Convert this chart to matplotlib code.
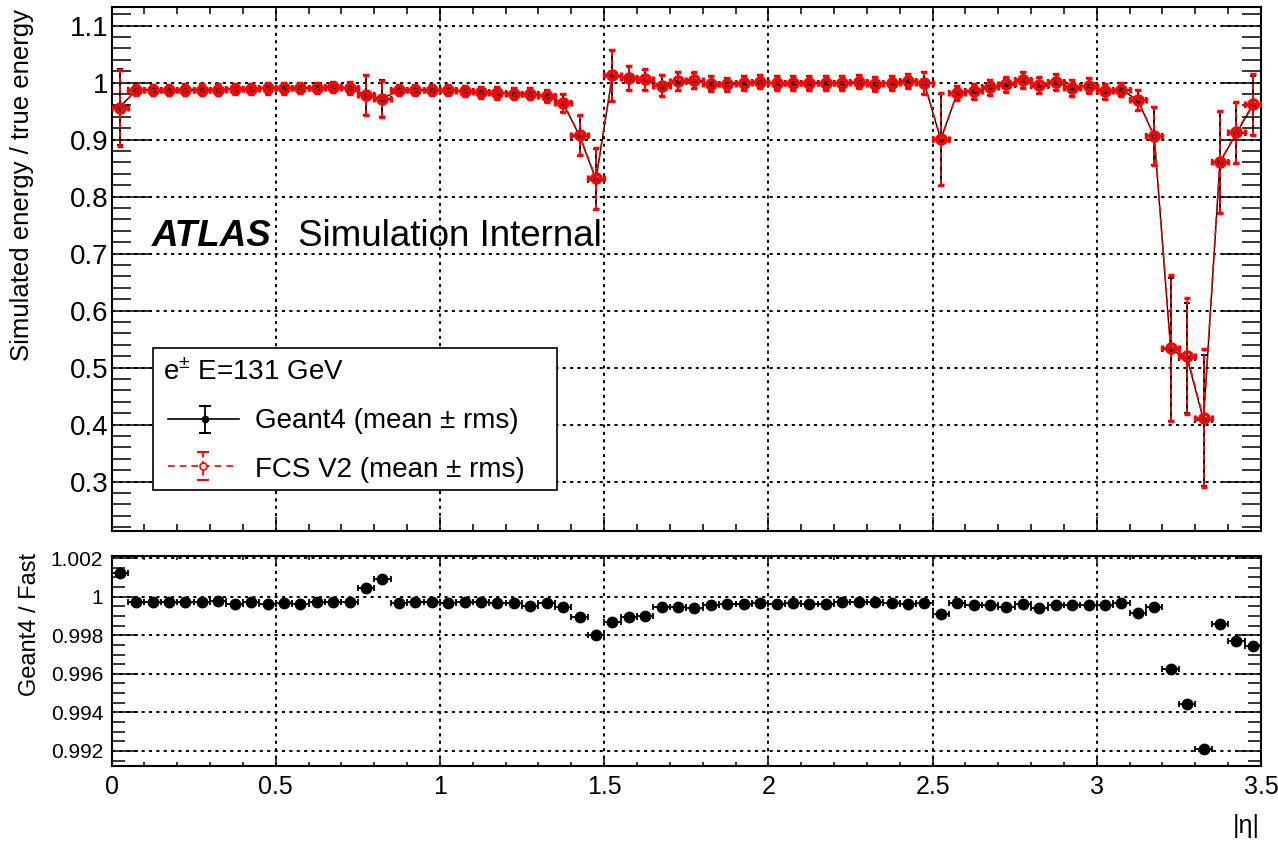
import numpy as np
import matplotlib
matplotlib.use("Agg")
import matplotlib.pyplot as plt
from matplotlib.ticker import MultipleLocator, FuncFormatter
from matplotlib.patches import Rectangle
from matplotlib.lines import Line2D

plt.rcParams['font.family'] = ['Liberation Sans', 'DejaVu Sans']
plt.rcParams['mathtext.fontset'] = 'custom'
plt.rcParams['mathtext.rm'] = 'Liberation Sans'
plt.rcParams['mathtext.it'] = 'Liberation Sans:italic'
plt.rcParams['mathtext.bf'] = 'Liberation Sans:bold'

# |eta| bins of width 0.05 from 0 to 3.5 (bin centres)
eta = np.round(np.arange(0.025, 3.5, 0.05), 3)
eta_halfwidth = 0.025

# Geant4 response (mean and rms)
geant4 = [0.957, 0.987, 0.987, 0.987, 0.988, 0.988, 0.988, 0.989, 0.989, 0.990,
          0.990, 0.991, 0.991, 0.992, 0.991, 0.978, 0.972, 0.987, 0.987, 0.987,
          0.987, 0.985, 0.983, 0.982, 0.981, 0.981, 0.977, 0.964, 0.907, 0.830,
          1.012, 1.008, 1.005, 0.995, 1.002, 1.003, 0.998, 0.997, 0.999, 1.002,
          0.999, 0.999, 0.999, 0.999, 0.999, 1.002, 0.998, 1.000, 1.003, 0.999,
          0.900, 0.982, 0.985, 0.992, 0.996, 1.005, 0.995, 1.001, 0.991, 0.995,
          0.985, 0.988, 0.969, 0.906, 0.532, 0.517, 0.408, 0.860, 0.911, 0.960]
geant4_err = [0.067, 0.009, 0.009, 0.009, 0.009, 0.009, 0.009, 0.009, 0.009, 0.009,
              0.009, 0.009, 0.009, 0.009, 0.010, 0.035, 0.032, 0.009, 0.009, 0.009,
              0.009, 0.009, 0.009, 0.010, 0.010, 0.010, 0.010, 0.016, 0.035, 0.053,
              0.045, 0.021, 0.018, 0.018, 0.016, 0.014, 0.013, 0.012, 0.012, 0.012,
              0.012, 0.012, 0.012, 0.012, 0.012, 0.012, 0.012, 0.012, 0.012, 0.019,
              0.081, 0.013, 0.013, 0.013, 0.013, 0.014, 0.014, 0.014, 0.014, 0.013,
              0.013, 0.012, 0.018, 0.051, 0.125, 0.097, 0.115, 0.089, 0.053, 0.051]

# FCS V2 response (mean and rms)
fcs = [0.956, 0.987, 0.987, 0.987, 0.988, 0.988, 0.988, 0.989, 0.989, 0.990,
       0.990, 0.991, 0.991, 0.992, 0.991, 0.978, 0.971, 0.987, 0.987, 0.987,
       0.987, 0.985, 0.983, 0.982, 0.981, 0.981, 0.977, 0.965, 0.908, 0.832,
       1.013, 1.009, 1.006, 0.995, 1.003, 1.004, 0.998, 0.997, 0.999, 1.002,
       0.999, 0.999, 0.999, 0.999, 0.999, 1.002, 0.998, 1.000, 1.003, 0.999,
       0.901, 0.982, 0.985, 0.992, 0.997, 1.005, 0.996, 1.001, 0.991, 0.995,
       0.985, 0.988, 0.970, 0.906, 0.534, 0.520, 0.411, 0.861, 0.913, 0.962]
fcs_err = [0.067, 0.009, 0.009, 0.009, 0.009, 0.009, 0.009, 0.009, 0.009, 0.009,
           0.009, 0.009, 0.009, 0.009, 0.010, 0.035, 0.032, 0.009, 0.009, 0.009,
           0.009, 0.009, 0.009, 0.010, 0.010, 0.010, 0.010, 0.016, 0.035, 0.053,
           0.045, 0.021, 0.018, 0.018, 0.016, 0.014, 0.013, 0.012, 0.012, 0.012,
           0.012, 0.012, 0.012, 0.012, 0.012, 0.012, 0.012, 0.012, 0.012, 0.019,
           0.081, 0.013, 0.013, 0.013, 0.013, 0.014, 0.014, 0.014, 0.014, 0.013,
           0.013, 0.012, 0.018, 0.051, 0.128, 0.102, 0.121, 0.090, 0.054, 0.053]

# Geant4 / Fast ratio
ratio = [1.00124, 0.99971, 0.99971, 0.99971, 0.99971, 0.99974, 0.99979, 0.99964, 0.99972, 0.99964,
         0.99968, 0.99962, 0.99971, 0.99974, 0.99974, 1.00043, 1.00092, 0.99969, 0.99973, 0.99973,
         0.99966, 0.99973, 0.99970, 0.99969, 0.99969, 0.99953, 0.99969, 0.99945, 0.99896, 0.99801,
         0.99867, 0.99893, 0.99900, 0.99948, 0.99944, 0.99940, 0.99957, 0.99962, 0.99962, 0.99966,
         0.99962, 0.99969, 0.99960, 0.99960, 0.99970, 0.99970, 0.99974, 0.99969, 0.99962, 0.99969,
         0.99910, 0.99969, 0.99957, 0.99957, 0.99948, 0.99960, 0.99943, 0.99957, 0.99957, 0.99957,
         0.99957, 0.99966, 0.99917, 0.99945, 0.99625, 0.99442, 0.99209, 0.99859, 0.99772, 0.99745]

W, H = 1278, 841


def fx(px):
    return px / W


def fy(py):
    return 1 - py / H


fig = plt.figure(figsize=(W / 100, H / 100), dpi=100)
ax1 = fig.add_axes([fx(111.5), fy(531), (1261 - 111.5) / W, (531 - 7) / H])
ax2 = fig.add_axes([fx(111.5), fy(766), (1261 - 111.5) / W, (766 - 556) / H])

fmt = FuncFormatter(lambda v, pos: f"{v:g}")
grid_style = dict(color='black', linestyle=(0, (1.6, 2.2)), linewidth=1.4)

# ---- top panel: response ----
ax1.errorbar(eta, geant4, xerr=eta_halfwidth, yerr=geant4_err, fmt='o-',
             color='black', ms=3.5, lw=1.0, elinewidth=1.3, capsize=2.5,
             capthick=1.3, zorder=3)
l_r, caps_r, bars_r = ax1.errorbar(eta, fcs, xerr=eta_halfwidth, yerr=fcs_err, fmt='o',
                                   color='red', ms=6.5, mfc='none', mec='red', mew=2.5,
                                   elinewidth=1.3, capsize=2.5, capthick=1.3, zorder=4)
for b in bars_r:
    b.set_linestyle((0, (3, 2)))
ax1.plot(eta, fcs, color='red', lw=1.2, linestyle=(0, (4, 3)), zorder=4)

ax1.set_xlim(0, 3.5)
ax1.set_ylim(0.2135, 1.1328)
ax1.xaxis.set_major_locator(MultipleLocator(0.5))
ax1.xaxis.set_minor_locator(MultipleLocator(0.1))
ax1.yaxis.set_major_locator(MultipleLocator(0.1))
ax1.yaxis.set_minor_locator(MultipleLocator(0.02))
ax1.yaxis.set_major_formatter(fmt)
ax1.tick_params(which='both', direction='in', top=True, right=True,
                labelbottom=False, width=1.1, labelsize=20)
ax1.tick_params(axis='y', which='major', length=28, pad=2.5)
ax1.tick_params(axis='y', which='minor', length=14)
ax1.tick_params(axis='x', which='major', length=10)
ax1.tick_params(axis='x', which='minor', length=5)
ax1.grid(True, which='major', **grid_style)
ax1.set_axisbelow(True)
for s in ax1.spines.values():
    s.set_linewidth(1.5)

fig.text(fx(152), fy(246), 'ATLAS', fontsize=26.5, fontweight='bold',
         fontstyle='italic', va='baseline')
fig.text(fx(298), fy(246), 'Simulation Internal', fontsize=26.5, va='baseline')

# ---- bottom panel: ratio ----
ax2.errorbar(eta, ratio, xerr=eta_halfwidth, fmt='o', color='black', ms=7.5,
             elinewidth=1.3, capsize=2.5, capthick=1.3, zorder=3)
ax2.set_xlim(0, 3.5)
ax2.set_ylim(0.99122, 1.00211)
ax2.xaxis.set_major_locator(MultipleLocator(0.5))
ax2.xaxis.set_minor_locator(MultipleLocator(0.1))
ax2.xaxis.set_major_formatter(fmt)
ax2.yaxis.set_major_locator(MultipleLocator(0.002))
ax2.yaxis.set_minor_locator(MultipleLocator(0.0005))
ax2.yaxis.set_major_formatter(fmt)
ax2.tick_params(which='both', direction='in', top=True, right=True, width=1.1)
ax2.tick_params(axis='y', which='major', length=19, pad=6, labelsize=15)
ax2.tick_params(axis='y', which='minor', length=9.5)
ax2.tick_params(axis='x', which='major', length=6, pad=6.5, labelsize=18)
ax2.tick_params(axis='x', which='minor', length=3)
ax2.grid(True, which='major', **grid_style)
ax2.set_axisbelow(True)
for s in ax2.spines.values():
    s.set_linewidth(1.5)

# axis titles (ROOT style, aligned to the top / right end)
fig.text(fx(22), fy(9), 'Simulated energy / true energy', rotation=90,
         ha='center', va='top', fontsize=18.5)
fig.text(fx(30), fy(553), 'Geant4 / Fast', rotation=90,
         ha='center', va='top', fontsize=17)
fig.text(fx(1260), fy(826), '|η|', ha='right', va='center', fontsize=18)

# ---- legend box ----
fig.add_artist(Rectangle((fx(153), fy(490)), fx(557) - fx(153), fy(348) - fy(490),
                         transform=fig.transFigure, facecolor='white',
                         edgecolor='black', linewidth=1.2, zorder=5))
fig.text(fx(163), fy(380), r'e$^{\pm}$ E=131 GeV', fontsize=20, va='baseline', zorder=6)
fig.text(fx(255), fy(428), 'Geant4 (mean ± rms)', fontsize=20, va='baseline', zorder=6)
fig.text(fx(255), fy(477), 'FCS V2 (mean ± rms)', fontsize=20, va='baseline', zorder=6)

tf = fig.transFigure
fig.add_artist(Line2D([fx(168), fx(239)], [fy(419)] * 2, color='black', lw=1.2, transform=tf, zorder=6))
fig.add_artist(Line2D([fx(205)] * 2, [fy(406), fy(433)], color='black', lw=1.3, transform=tf, zorder=6))
fig.add_artist(Line2D([fx(205)] * 2, [fy(406), fy(433)], color='black', lw=0, marker='_',
                      ms=8, mew=1.5, transform=tf, zorder=6))
fig.add_artist(Line2D([fx(205)], [fy(419)], color='black', marker='o', ms=4.5, lw=0,
                      transform=tf, zorder=7))

fig.add_artist(Line2D([fx(168), fx(233)], [fy(466)] * 2, color='red', lw=1.2,
                      linestyle=(0, (4, 3)), transform=tf, zorder=6))
fig.add_artist(Line2D([fx(203)] * 2, [fy(452), fy(480)], color='red', lw=1.3,
                      linestyle=(0, (3, 2)), transform=tf, zorder=6))
fig.add_artist(Line2D([fx(203)] * 2, [fy(452), fy(480)], color='red', lw=0, marker='_',
                      ms=8, mew=1.5, transform=tf, zorder=6))
fig.add_artist(Line2D([fx(203)], [fy(466)], color='red', marker='o', ms=5, mfc='white',
                      mew=1.2, lw=0, transform=tf, zorder=7))

fig.savefig('out.png', dpi=100)
